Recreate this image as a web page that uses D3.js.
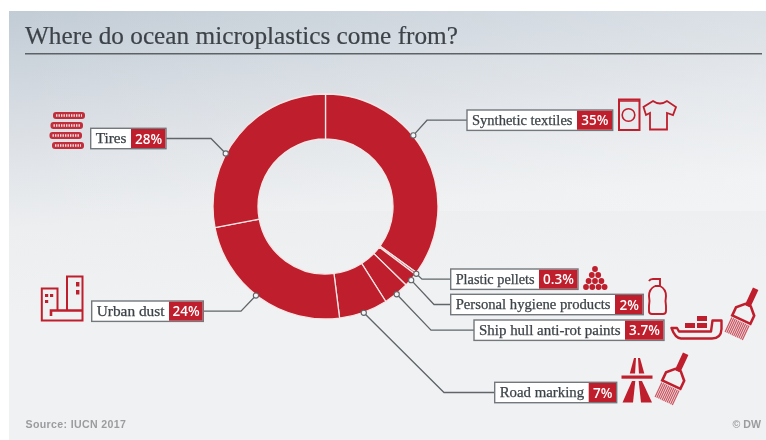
<!DOCTYPE html>
<html><head><meta charset="utf-8">
<script src="https://cdnjs.cloudflare.com/ajax/libs/d3/7.8.5/d3.min.js"></script>
<style>html,body{margin:0;padding:0;background:#fff}svg{display:block;filter:blur(0.35px)}</style>
</head><body><svg id="c" width="766" height="440"></svg>
<script>
const categories = ["Synthetic textiles","Plastic pellets","Personal hygiene products","Ship hull anti-rot paints","Road marking","Urban dust","Tires"];
const values = [35,0.3,2,3.7,7,24,28];
const titleText = "Where do ocean microplastics come from?";
const sourceText = "Source: IUCN 2017";
const creditText = "© DW";

// Callout placement per category, in drawing order: box x0, split x, box x1, box top, elbow x, anchor angle (deg)
const boxX0 = [467,450.7,450.7,474,494.7,91.7,90.7];
const boxSplit = [577,539,615,625,588.7,169,131];
const boxX1 = [612.7,578,643.3,664,616.7,203.3,166];
const boxTop = [110,269,294.3,320,382.3,301,128.3];
const elbowX = [427,422,434,431,444,241,211];
const anchorDeg = [51,null,null,null,null,218,298];

const RED="#bf1e2c", INK="#3d4348", GREY="#73787c";
const SERIF="'Liberation Serif',serif";
const svg=d3.select("#c");
const defs=svg.append("defs");
const g1=defs.append("linearGradient").attr("id","bg").attr("x1","0").attr("y1","0").attr("x2","0.12").attr("y2","1");
[[0,"#c2ccd5"],[0.12,"#ccd4dc"],[0.3,"#dde1e6"],[0.5,"#eceef0"],[0.7,"#f0f1f3"],[1,"#f0f1f3"]].forEach(s=>g1.append("stop").attr("offset",s[0]).attr("stop-color",s[1]));
const g2=defs.append("linearGradient").attr("id","bg2").attr("x1","0").attr("y1","0").attr("x2","1").attr("y2","0");
g2.append("stop").attr("offset",0).attr("stop-color","#fff").attr("stop-opacity",0);
g2.append("stop").attr("offset",1).attr("stop-color","#fff").attr("stop-opacity",0.28);
svg.append("rect").attr("x",9).attr("y",11).attr("width",757).attr("height",429).attr("fill","url(#bg)");
svg.append("rect").attr("x",9).attr("y",11).attr("width",757).attr("height",200).attr("fill","url(#bg2)");

svg.append("text").attr("x",25).attr("y",43.5).attr("textLength",433).attr("lengthAdjust","spacingAndGlyphs")
  .attr("font-family",SERIF).attr("font-size",26).attr("stroke",INK).attr("stroke-width",0.2).attr("fill",INK).text(titleText);
svg.append("line").attr("x1",25).attr("x2",762).attr("y1",53.7).attr("y2",53.7).attr("stroke","#5c6266").attr("stroke-width",1.4);

// Donut
const cx=325.5, cy=206.5, rO=112.5, rI=67.5;
const pie=d3.pie().value(d=>d).sort(null)(values);
const arc=d3.arc().innerRadius(rI).outerRadius(rO);
const donut=svg.append("g").attr("transform",`translate(${cx},${cy})`);
donut.selectAll("path").data(pie).join("path").attr("d",arc).attr("fill",RED).attr("stroke","#f6e6e6").attr("stroke-width",1.3);

// Callouts
const anchor=(d,i)=>{
  const a=(anchorDeg[i]===null?(d.startAngle+d.endAngle)/2:anchorDeg[i]*Math.PI/180);
  return [cx+113*Math.sin(a),cy-113*Math.cos(a)];
};
const H=20.4;
const lines=svg.append("g");
const call=svg.append("g");
pie.forEach((d,i)=>{
  const [ax,ay]=anchor(d,i), my=boxTop[i]+H/2;
  const fromX = boxX0[i]>cx ? boxX0[i] : boxX1[i];
  lines.append("path").attr("d",d3.line()([[fromX,my],[elbowX[i],my],[ax,ay]]))
    .attr("fill","none").attr("stroke","#5f6569").attr("stroke-width",1.3);
  call.append("circle").attr("cx",ax).attr("cy",ay).attr("r",2.6).attr("fill","#f4f5f6").attr("stroke","#5f6569").attr("stroke-width",1.1);
  const b=call.append("g");
  b.append("rect").attr("x",boxX0[i]).attr("y",boxTop[i]).attr("width",boxX1[i]-boxX0[i]).attr("height",H).attr("fill","#fff").attr("stroke",GREY).attr("stroke-width",1.4);
  b.append("rect").attr("x",boxSplit[i]).attr("y",boxTop[i]+0.7).attr("width",boxX1[i]-boxSplit[i]-0.7).attr("height",H-1.4).attr("fill",RED);
  b.append("text").attr("x",boxX0[i]+5).attr("y",my+4.6).attr("textLength",boxSplit[i]-boxX0[i]-9.5).attr("lengthAdjust","spacingAndGlyphs")
    .attr("font-family",SERIF).attr("font-size",14.2).attr("stroke",INK).attr("stroke-width",0.25).attr("fill",INK).text(categories[i]);
  b.append("text").attr("x",(boxSplit[i]+boxX1[i])/2).attr("y",my+5).attr("text-anchor","middle")
    .attr("font-family","'Open Sans',sans-serif").attr("font-size",13.5).attr("font-weight",600).attr("fill","#fff").text(values[i]+"%");
});

svg.append("text").attr("x",25.5).attr("y",428).attr("font-family","'Liberation Sans',sans-serif").attr("font-size",10.6).attr("font-weight",700).attr("letter-spacing",0.35).attr("fill","#9a9c9e").text(sourceText);
svg.append("text").attr("x",761).attr("y",428).attr("text-anchor","end").attr("font-family","'Liberation Sans',sans-serif").attr("font-size",10.6).attr("font-weight",700).attr("fill","#9a9c9e").text(creditText);

// Icons
const ic=svg.append("g").attr("fill","none").attr("stroke",RED);
// tires
[[53,112,32],[50.5,122,32.5],[49.5,132,32.5],[52,142,32]].forEach(t=>{
  ic.append("rect").attr("x",t[0]).attr("y",t[1]).attr("width",t[2]).attr("height",7).attr("rx",3).attr("fill",RED).attr("stroke","none").attr("opacity",0.92);
  ic.append("line").attr("x1",t[0]+3).attr("x2",t[0]+t[2]-3).attr("y1",t[1]+3.5).attr("y2",t[1]+3.5).attr("stroke","#f3dfe0").attr("stroke-width",2.4).attr("stroke-dasharray","1.4 1.1");
});
// washing machine
ic.append("rect").attr("x",619).attr("y",99.5).attr("width",20.5).attr("height",30.5).attr("stroke-width",2);
ic.append("line").attr("x1",619).attr("x2",640).attr("y1",101).attr("y2",101).attr("stroke-width",1.5);
ic.append("circle").attr("cx",628.5).attr("cy",115).attr("r",6.3).attr("stroke-width",1.6);
// shirt
ic.append("path").attr("stroke-width",1.8).attr("stroke-linejoin","miter").attr("d","M653,101 Q660,106 667,101 L676,107 L673,115 L667,113 L667,129.5 L650,129.5 L650,113 L646,115 L643.5,107 Z");
// pellets
const pel=ic.append("g").attr("fill",RED).attr("stroke","none");
[[595,269],[591.8,275],[598.2,275],[588.6,281],[595,281],[601.4,281],[586,287],[592.3,287],[598.6,287],[604.6,287]].forEach(p=>pel.append("circle").attr("cx",p[0]).attr("cy",p[1]).attr("r",2.9));
// bottle
ic.append("path").attr("stroke-width",1.9).attr("d","M649,281 Q650,279 653,279 L660,279 L660,286 M655,286 L660,286 Q666,289 666,296 Q665,301 666,306 L666,311 Q666,314 663,314 L652,314 Q649,314 649,311 L649,306 Q650,301 649,296 Q649,289 655,286");
// ship
ic.append("path").attr("stroke-width",2.4).attr("stroke-linejoin","round").attr("d","M671.5,328 L677,328 L679,331.5 L711,331.5 L712.5,320.5 L721.5,320.5 L721.5,329 Q721,338.5 712,338.5 L681,338.5 Q675,338 671.5,328 Z");
const ship=ic.append("g").attr("fill",RED).attr("stroke","none");
[[685,323,10,5],[697,323,10,5],[697,316,10,5]].forEach(r=>ship.append("rect").attr("x",r[0]).attr("y",r[1]).attr("width",r[2]).attr("height",r[3]));
// brushes
function brush(x,y){
  const b=ic.append("g").attr("transform",`translate(${x},${y}) rotate(25)`);
  b.append("rect").attr("x",-3).attr("y",-30).attr("width",6).attr("height",19).attr("fill",RED).attr("stroke","none");
  b.append("path").attr("d","M-3,-12 L3,-12 L10,-5 L10,4 L-10,4 L-10,-5 Z").attr("stroke-width",2.6);
  d3.range(-9.5,10,1.9).forEach(v=>b.append("line").attr("x1",v).attr("x2",v).attr("y1",6).attr("y2",22).attr("stroke-width",1.2).attr("opacity",0.75));
}
brush(743,316);
brush(673,381);
// road
const rd=ic.append("g").attr("fill",RED).attr("stroke","none");
rd.append("rect").attr("x",621.5).attr("y",375.5).attr("width",31).attr("height",3.2);
["M622.5,402.5 L632,381 L635.3,381 L633,402.5 Z","M638.7,381 L642,381 L652,402.5 L641,402.5 Z","M629.8,373.5 L634,358 L636,358 L635,373.5 Z","M638,358 L640,358 L644.3,373.5 L639,373.5 Z"].forEach(p=>rd.append("path").attr("d",p));
// buildings
ic.append("path").attr("stroke-width",2).attr("d","M57.5,310 L57.5,288.5 L41.8,288.5 L41.8,320.5 L82.5,320.5 L82.5,276.5 L67,276.5 L67,310");
ic.append("path").attr("stroke-width",2.6).attr("d","M82,310.5 L51,310.5 L51,316");
const win=ic.append("g").attr("fill",RED).attr("stroke","none");
[[45,294,3.2,3],[50,294,3.2,3],[45,300,3.2,3],[76,282,3.4,4.5],[76,290,3.4,4.5]].forEach(r=>win.append("rect").attr("x",r[0]).attr("y",r[1]).attr("width",r[2]).attr("height",r[3]));
</script></body></html>
